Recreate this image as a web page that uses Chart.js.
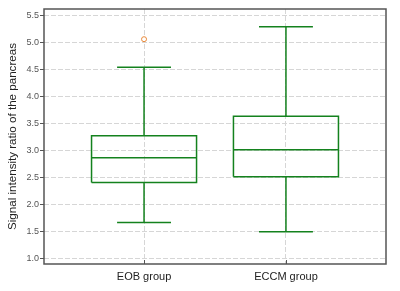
<!DOCTYPE html>
<html>
<head>
<meta charset="utf-8">
<script src="https://cdn.jsdelivr.net/npm/chart.js@4"></script>
<style>
  html, body { margin: 0; padding: 0; background: #fff; }
  #wrap { width: 400px; height: 291px; }
</style>
</head>
<body>
<div id="wrap"><canvas id="boxChart" width="400" height="291"></canvas></div>
<script>
// groups and their box plot stats
const groups = ['EOB group', 'ECCM group'];
const lowerWhisker = [1.66, 1.49];
const q1 = [2.40, 2.51];
const median = [2.86, 3.01];
const q3 = [3.27, 3.63];
const upperWhisker = [4.54, 5.29];
const outliers = [[5.06], []];
const yTicks = [1.0, 1.5, 2.0, 2.5, 3.0, 3.5, 4.0, 4.5, 5.0, 5.5];

const GREEN = '#14821e';
const boxHalf = 0.37;
const capHalf = 0.19;

// build line segments for boxes, medians and whiskers (null = break)
function boxLines(i) {
    const x = i;
    return [
        {x: x - boxHalf, y: q1[i]}, {x: x + boxHalf, y: q1[i]},
        {x: x + boxHalf, y: q3[i]}, {x: x - boxHalf, y: q3[i]},
        {x: x - boxHalf, y: q1[i]}, {x: x, y: null},
        {x: x - boxHalf, y: median[i]}, {x: x + boxHalf, y: median[i]}, {x: x, y: null},
        {x: x, y: q3[i]}, {x: x, y: upperWhisker[i]}, {x: x, y: null},
        {x: x - capHalf, y: upperWhisker[i]}, {x: x + capHalf, y: upperWhisker[i]}, {x: x, y: null},
        {x: x, y: q1[i]}, {x: x, y: lowerWhisker[i]}, {x: x, y: null},
        {x: x - capHalf, y: lowerWhisker[i]}, {x: x + capHalf, y: lowerWhisker[i]}
    ];
}

const datasets = groups.map((g, i) => ({
    label: g,
    data: boxLines(i),
    showLine: true,
    spanGaps: false,
    borderColor: GREEN,
    borderWidth: 1.5,
    pointRadius: 0,
    fill: false
}));

const outlierPoints = [];
outliers.forEach((list, i) => list.forEach(v => outlierPoints.push({x: i, y: v})));
datasets.push({
    label: 'outliers',
    data: outlierPoints,
    showLine: false,
    pointRadius: 2.5,
    pointBorderWidth: 1,
    pointBorderColor: '#e8893a',
    pointBackgroundColor: '#fff'
});

// plot frame around chart area
const framePlugin = {
    id: 'frame',
    afterDraw(chart) {
        const {ctx, chartArea: a} = chart;
        ctx.save();
        ctx.strokeStyle = '#555';
        ctx.lineWidth = 1.5;
        ctx.strokeRect(a.left, a.top, a.right - a.left, a.bottom - a.top);
        // small inward ticks on the bottom axis
        ctx.lineWidth = 1;
        const xs = chart.scales.x;
        groups.forEach((g, i) => {
            const px = Math.round(xs.getPixelForValue(i)) + 0.5;
            ctx.beginPath();
            ctx.moveTo(px, a.bottom);
            ctx.lineTo(px, a.bottom - 4);
            ctx.stroke();
        });
        ctx.restore();
    }
};

new Chart(document.getElementById('boxChart'), {
    type: 'scatter',
    data: { datasets: datasets },
    options: {
        responsive: false,
        animation: false,
        layout: { padding: { top: 9, right: 14, left: 0, bottom: 0 } },
        plugins: { legend: { display: false }, tooltip: { enabled: false } },
        scales: {
            x: {
                type: 'linear',
                min: -0.705,
                max: 1.705,
                afterBuildTicks: s => { s.ticks = groups.map((g, i) => ({value: i})); },
                afterFit: s => { s.height = 27; },
                ticks: {
                    callback: v => groups[v],
                    color: '#222',
                    font: { family: 'Arial, Liberation Sans', size: 11 },
                    padding: 6,
                    maxRotation: 0
                },
                grid: { color: '#d6d6d6', drawTicks: false, lineWidth: 1 },
                border: { display: false, dash: [5, 2] }
            },
            y: {
                type: 'linear',
                min: 0.89,
                max: 5.62,
                afterBuildTicks: s => { s.ticks = yTicks.map(v => ({value: v})); },
                afterFit: s => { s.width = 44; },
                ticks: {
                    callback: v => v.toFixed(1),
                    color: '#555',
                    font: { family: 'Arial, Liberation Sans', size: 9 },
                    padding: 1
                },
                grid: { color: '#d6d6d6', tickColor: '#555', tickLength: 4, tickBorderDash: [], lineWidth: 1 },
                border: { display: false, dash: [5, 2] },
                title: {
                    display: true,
                    text: 'Signal intensity ratio of the pancreas',
                    color: '#222',
                    font: { family: 'Arial, Liberation Sans', size: 11.6 },
                    padding: { top: 6, bottom: 2 }
                }
            }
        }
    },
    plugins: [framePlugin]
});
</script>
</body>
</html>
